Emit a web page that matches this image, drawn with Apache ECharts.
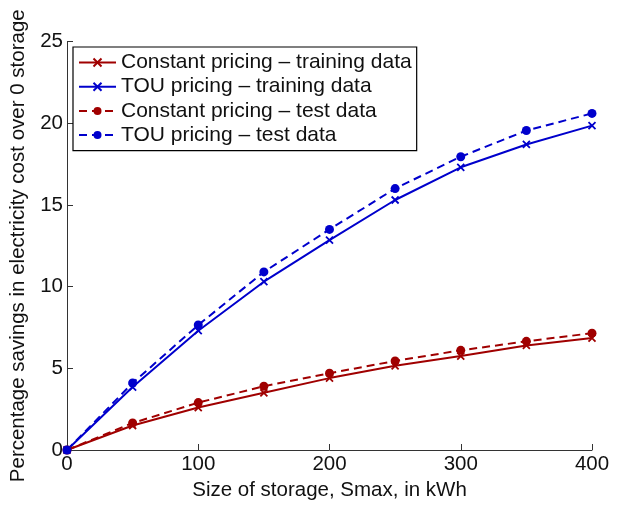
<!DOCTYPE html>
<html>
<head>
<meta charset="utf-8">
<script src="https://cdn.jsdelivr.net/npm/echarts@6/dist/echarts.min.js"></script>
<style>html,body{margin:0;padding:0;background:#fff}#c{width:629px;height:506px}</style>
</head>
<body>
<div id="c"></div>
<script>
var storage = [0, 50, 100, 150, 200, 250, 300, 350, 400];
var constTrain = [0, 1.5, 2.6, 3.5, 4.4, 5.15, 5.75, 6.4, 6.85];
var touTrain = [0, 3.85, 7.3, 10.3, 12.85, 15.3, 17.3, 18.7, 19.85];
var constTest = [0, 1.65, 2.9, 3.9, 4.7, 5.45, 6.1, 6.65, 7.15];
var touTest = [0, 4.1, 7.65, 10.9, 13.5, 16.0, 17.95, 19.55, 20.6];
var seriesNames = ['Constant pricing \u2013 training data', 'TOU pricing \u2013 training data', 'Constant pricing \u2013 test data', 'TOU pricing \u2013 test data'];
var xTicks = [0, 100, 200, 300, 400];
var yTicks = [0, 5, 10, 15, 20, 25];

function pairs(ys){ return storage.map(function(x,i){ return [x, ys[i]]; }); }
var RED = '#a00000', BLUE = '#0000cc';
var xMark = 'path://M0,0L10,10M10,0L0,10';
function mk(name, data, color, dashed){
  return {
    name: name, type: 'line', data: pairs(data),
    symbol: dashed ? 'circle' : xMark,
    symbolSize: dashed ? 9 : 7,
    showAllSymbol: true,
    lineStyle: {color: color, width: 2, type: dashed ? [8,5] : 'solid'},
    itemStyle: {color: color, borderColor: color, borderWidth: dashed ? 0 : 1.8},
    emphasis: {disabled: true},
    animation: false
  };
}
var chart = echarts.init(document.getElementById('c'), null, {renderer: 'canvas'});
var font = 'Liberation Sans, Arial, Helvetica, sans-serif';
chart.setOption({
  backgroundColor: '#fff',
  animation: false,
  textStyle: {fontFamily: font},
  grid: {left: 67, right: 37, top: 41.5, bottom: 51, containLabel: false},
  xAxis: {
    type: 'value', min: xTicks[0], max: xTicks[xTicks.length-1], interval: 100,
    name: 'Size of storage, Smax, in kWh', nameLocation: 'middle', nameGap: 30,
    nameTextStyle: {fontSize: 20.5, color: '#111', fontFamily: font},
    axisLine: {lineStyle: {color: '#333', width: 1}},
    axisTick: {inside: true, length: 6, lineStyle: {color: '#333'}},
    axisLabel: {fontSize: 20.5, color: '#111', margin: 4, fontFamily: font},
    splitLine: {show: false}
  },
  yAxis: {
    type: 'value', min: yTicks[0], max: yTicks[yTicks.length-1], interval: 5,
    name: 'Percentage savings in electricity cost over 0 storage', nameLocation: 'middle', nameGap: 38,
    nameTextStyle: {fontSize: 20.5, color: '#111', fontFamily: font},
    axisLine: {show: true, lineStyle: {color: '#333', width: 1}},
    axisTick: {show: true, inside: true, length: 6, lineStyle: {color: '#333'}},
    axisLabel: {fontSize: 20.5, color: '#111', margin: 4, fontFamily: font},
    splitLine: {show: false}
  },
  legend: {
    orient: 'vertical', left: 73, top: 47,
    data: seriesNames,
    backgroundColor: '#fff', borderColor: '#000', borderWidth: 1.2,
    padding: [5, 5, 5, 5], itemGap: 3.2, itemWidth: 37, itemHeight: 10,
    textStyle: {fontSize: 21, color: '#111', fontFamily: font},
    selectedMode: false
  },
  series: [
    mk(seriesNames[0], constTrain, RED, false),
    mk(seriesNames[1], touTrain, BLUE, false),
    mk(seriesNames[2], constTest, RED, true),
    mk(seriesNames[3], touTest, BLUE, true)
  ]
});
</script>
</body>
</html>
